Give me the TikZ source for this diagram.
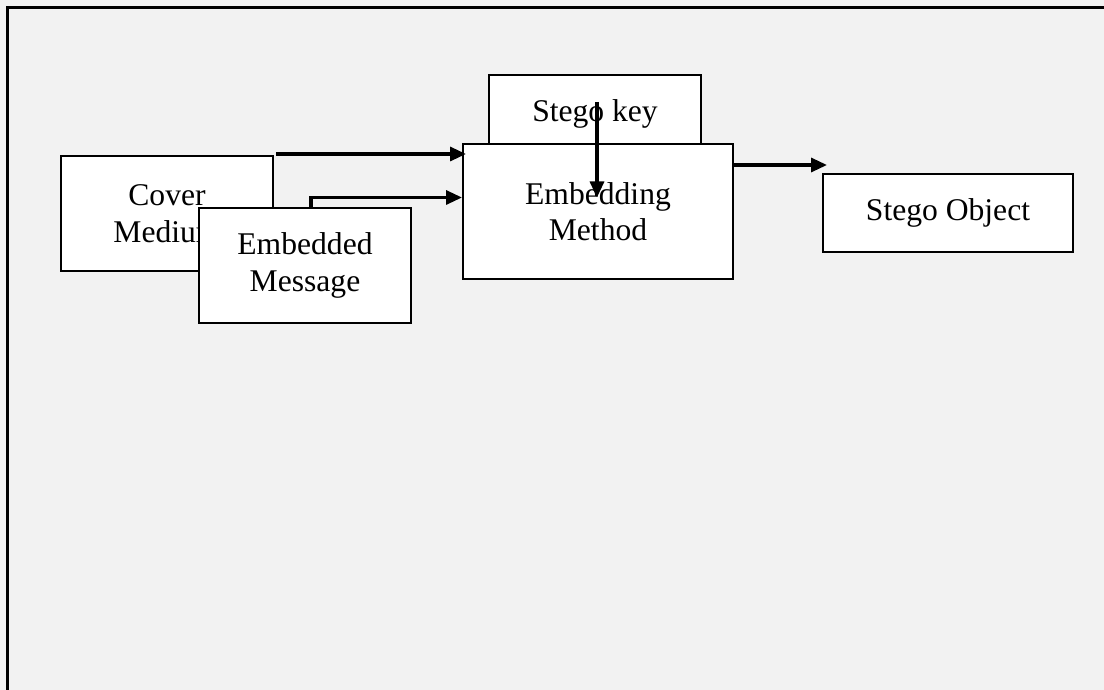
\documentclass[tikz,border=0pt]{standalone}
\usepackage{fontspec}
\setmainfont{Liberation Serif}
\usetikzlibrary{arrows.meta,calc}
\definecolor{bggray}{HTML}{F2F2F2}

\begin{document}
\begin{tikzpicture}
  [x=0.5pt,y=-0.5pt,
   box/.style={draw,fill=white,line width=1pt,align=center,inner sep=0pt,
     font=\fontsize{15.8}{18.3}\selectfont},
   arr/.style={line width=1.6pt,-{Triangle[length=8pt,width=7pt]}}]
  \fill[bggray] (0,0) rectangle (1104,690);
  \useasboundingbox (0,0) rectangle (1104,690);
  \draw[line width=1.5pt] (7,690) -- (7,8) -- (1104,8);

  \node[box,minimum width=106pt,minimum height=39pt] (key) at (595,114) {Stego key};
  \node[box,minimum width=135pt,minimum height=67.5pt] (embed) at (598,211.5) {Embedding\\Method};
  \node[box,minimum width=106pt,minimum height=57.5pt] (cover) at (167,213.5) {Cover\\Medium};
  \node[box,minimum width=106pt,minimum height=57.5pt] (msg) at (305,265.5) {Embedded\\Message};
  \node[box,minimum width=125pt,minimum height=39pt] (obj) at (948,213) {Stego Object};

  \draw[arr] ($(cover.north east)+(2,-1)$) -- ($(embed.west |- cover.north east)+(4,-1)$);
  \draw[arr] ($(msg.north)+(6,0)$) |- ($(embed.west)+(0,-14)$);
  \draw[arr] ($(key.center)+(2,-12)$) -- ($(embed.center)+(-1,-14)$);
  \draw[arr] ($(embed.north east)+(0,22)$) -- ($(obj.north west)+(5,-8)$);

\end{tikzpicture}
\end{document}
